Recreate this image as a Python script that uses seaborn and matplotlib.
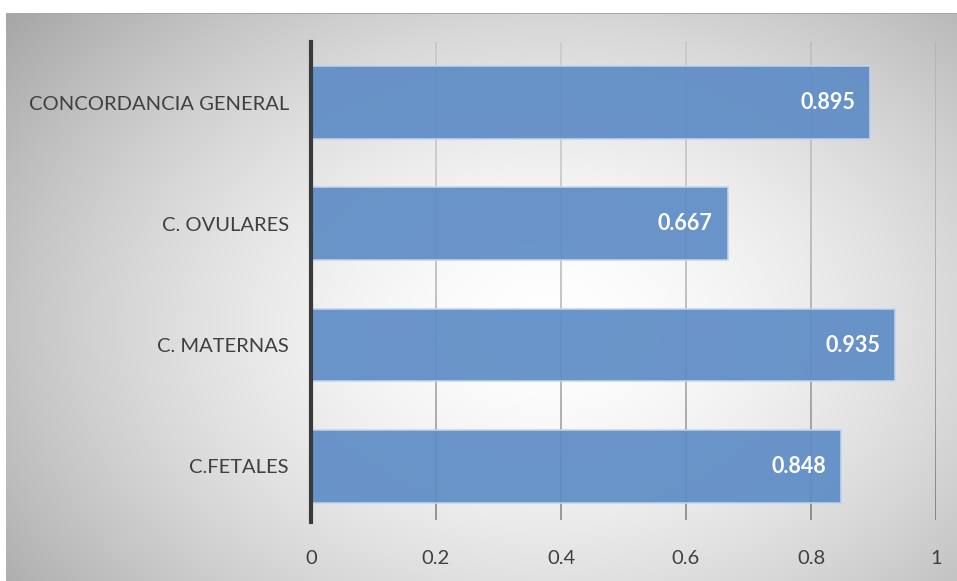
import numpy as np
import pandas as pd
import matplotlib
matplotlib.use("Agg")
import matplotlib.pyplot as plt
from matplotlib.collections import LineCollection
import seaborn as sns

categories = ["CONCORDANCIA GENERAL", "C. OVULARES", "C. MATERNAS", "C.FETALES"]
values = [0.895, 0.667, 0.935, 0.848]
xticks = [0, 0.2, 0.4, 0.6, 0.8, 1]
xtick_labels = ["0", "0.2", "0.4", "0.6", "0.8", "1"]

sns.set_theme(style="white")
plt.rcParams["font.family"] = ["Lato", "DejaVu Sans"]

W, H = 957, 581
fig = plt.figure(figsize=(W / 100, H / 100), dpi=100)
fig.patch.set_facecolor("white")

# radial grey-to-white backdrop of the chart area
bg = fig.add_axes([6 / W, 0, 1 - 6 / W, (H - 13) / H], zorder=0)
ny, nx = 300, 500
yy, xx = np.mgrid[0:1:ny * 1j, 0:1:nx * 1j]
r = np.sqrt(((xx - 0.57) / 0.62) ** 2 + ((yy - 0.45) / 0.75) ** 2)
shade = 1 - 0.27 * np.clip(r, 0, 1.3) ** 1.6
img = np.dstack([shade, shade, shade])
bg.imshow(img, extent=[0, 1, 0, 1], aspect="auto", origin="lower")
bg.plot([0, 1], [1, 1], color="#a8a8a8", lw=1.5)
bg.set_xlim(0, 1)
bg.set_ylim(0, 1)
bg.axis("off")

ax = fig.add_axes([311 / W, 59 / H, 625 / W, 480 / H], zorder=1)
ax.patch.set_alpha(0)

df = pd.DataFrame({"categoria": categories, "valor": values})
sns.barplot(data=df, x="valor", y="categoria", order=categories, orient="h",
            width=0.6, color="#5f8dc6", saturation=1, alpha=0.93,
            edgecolor="#c2d4ec", linewidth=1.2, ax=ax, zorder=2)

ax.set_xlim(0, 1)
ax.set_ylim(3.46, -0.5)
ax.set_xticks(xticks)
ax.set_xticklabels(xtick_labels)
ax.set_xlabel("")
ax.set_ylabel("")

# vertical gridlines that fade towards the top
ytop, ybot = -0.5, 3.44
n = 60
edges = np.linspace(ytop, ybot, n + 1)
for x in xticks[1:]:
    segs = [[(x, edges[k]), (x, edges[k + 1])] for k in range(n)]
    alphas = np.linspace(0.08, 0.42, n)
    cols = [(0, 0, 0, a) for a in alphas]
    ax.add_collection(LineCollection(segs, colors=cols, linewidths=1.2, zorder=1))

for s in ["top", "right", "bottom"]:
    ax.spines[s].set_visible(False)
ax.spines["left"].set_color("#3a3a3a")
ax.spines["left"].set_linewidth(3)
ax.tick_params(axis="x", length=0, pad=20, labelsize=14.5, labelcolor="#404040")
ax.tick_params(axis="y", length=0, pad=16, labelsize=14.5, labelcolor="#404040")

for i, v in enumerate(values):
    ax.text(v - 0.024, i, f"{v:.3f}", ha="right", va="center", color="white",
            fontsize=15.5, fontweight="bold", zorder=3)

fig.savefig("out.png", dpi=100)
